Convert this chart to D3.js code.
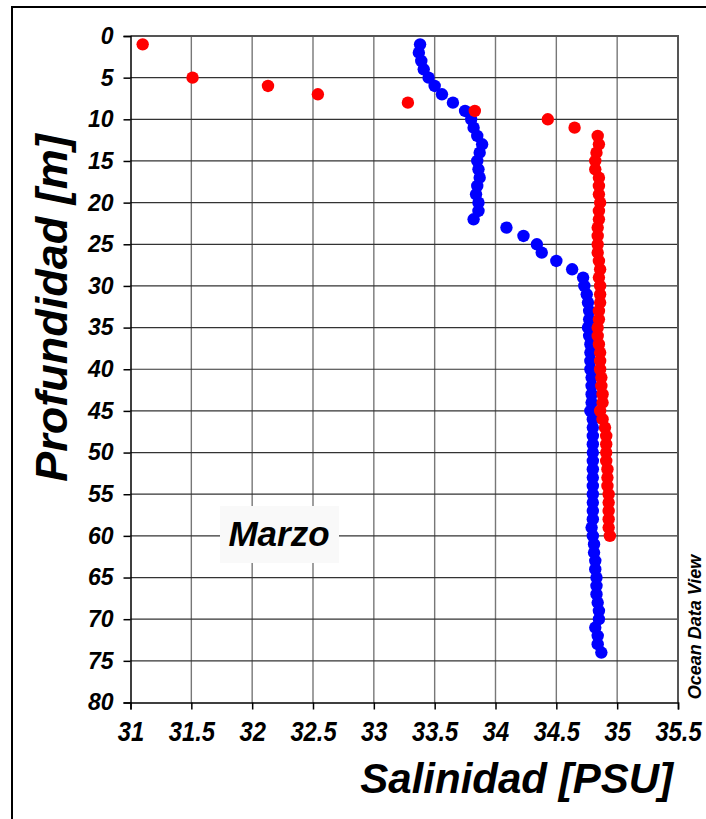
<!DOCTYPE html>
<html>
<head>
<meta charset="utf-8">
<script src="https://cdn.jsdelivr.net/npm/d3@7"></script>
<style>
  body { margin: 0; background: #fff; }
  svg text { font-family: "Liberation Sans", Arial, sans-serif; font-weight: bold; font-style: italic; }
</style>
</head>
<body>
<div id="chart"></div>
<script>
// red profile (depth m, salinity PSU)
const redDepth = [1, 5, 6, 7, 8, 9, 10, 11, 12, 13, 14, 15, 16, 17, 18, 19, 20, 21, 22, 23, 24, 25, 26, 27, 28, 29, 30,
  31, 32, 33, 34, 35, 36, 37, 38, 39, 40, 41, 42, 43, 44, 45, 46, 47, 48, 49, 50, 51, 52, 53, 54, 55, 56, 57, 58, 59, 60];
const redSal = [31.10, 31.51, 32.13, 32.54, 33.28, 33.83, 34.43, 34.65, 34.84, 34.85, 34.83, 34.82, 34.82, 34.85, 34.85,
  34.85, 34.86, 34.85, 34.85, 34.84, 34.84, 34.84, 34.84, 34.85, 34.86, 34.85, 34.86,
  34.86, 34.86, 34.85, 34.85, 34.84, 34.84, 34.85, 34.86, 34.86, 34.86, 34.87, 34.87, 34.88, 34.88, 34.86, 34.88,
  34.90, 34.91, 34.91, 34.91, 34.91, 34.92, 34.92, 34.92, 34.93, 34.93, 34.93, 34.93, 34.93, 34.94];

// blue profile
const blueDepth = d3.range(1, 75);
const blueSal = [33.38, 33.37, 33.39, 33.41, 33.45, 33.50, 33.56, 33.65, 33.75, 33.80,
  33.82, 33.85, 33.89, 33.87, 33.85, 33.86, 33.87, 33.85, 33.84, 33.86,
  33.86, 33.82, 34.09, 34.23, 34.34, 34.38, 34.50, 34.63, 34.72, 34.73,
  34.75, 34.76, 34.77, 34.77, 34.76, 34.77, 34.78, 34.78, 34.78, 34.78,
  34.79, 34.79, 34.79, 34.79, 34.78, 34.80, 34.80, 34.80, 34.80, 34.80,
  34.80, 34.80, 34.80, 34.80, 34.80, 34.80, 34.80, 34.80, 34.79, 34.80,
  34.81, 34.81, 34.82, 34.82, 34.83, 34.83, 34.83, 34.84, 34.85, 34.85,
  34.82, 34.84, 34.84, 34.87];

const xTicks = [31, 31.5, 32, 32.5, 33, 33.5, 34, 34.5, 35, 35.5];
const yTicks = d3.range(0, 85, 5);
const monthLabel = "Marzo";

const width = 706;
const height = 819;
const plotLeft = 130.5, plotRight = 678, plotTop = 36, plotBottom = 702.5;

const svg = d3.select("#chart")
  .append("svg")
  .attr("width", width)
  .attr("height", height);

const x = d3.scaleLinear().domain([31, 35.5]).range([plotLeft, plotRight]);
const y = d3.scaleLinear().domain([0, 80]).range([plotTop, plotBottom]);

// outer frame
svg.append("rect")
  .attr("x", 12).attr("y", 7)
  .attr("width", 800).attr("height", 900)
  .attr("fill", "none")
  .attr("stroke", "#000")
  .attr("stroke-width", 2);

// grid
svg.append("g")
  .selectAll("line")
  .data(xTicks.slice(1, -1))
  .enter()
  .append("line")
  .attr("x1", d => x(d)).attr("x2", d => x(d))
  .attr("y1", plotTop).attr("y2", plotBottom)
  .attr("stroke", "#777")
  .attr("stroke-width", 1.4);

svg.append("g")
  .selectAll("line")
  .data(yTicks.slice(1, -1))
  .enter()
  .append("line")
  .attr("x1", plotLeft).attr("x2", plotRight)
  .attr("y1", d => y(d)).attr("y2", d => y(d))
  .attr("stroke", "#333")
  .attr("stroke-width", 1.2);

// plot border top/right
svg.append("path")
  .attr("d", `M${plotLeft},${plotTop}H${plotRight}V${plotBottom}`)
  .attr("fill", "none")
  .attr("stroke", "#555")
  .attr("stroke-width", 2);

// axes
const yAxis = d3.axisLeft(y).tickValues(yTicks).tickSize(7).tickPadding(10);
const xAxis = d3.axisBottom(x).tickValues(xTicks).tickSize(7).tickPadding(12).tickFormat(d3.format(""));

svg.append("g")
  .attr("transform", `translate(${plotLeft},0)`)
  .call(yAxis)
  .call(g => g.selectAll("text").attr("font-size", 23).attr("fill", "#000").attr("font-family", null))
  .call(g => g.selectAll("path,line").attr("stroke", "#000").attr("stroke-width", 1.5));

svg.append("g")
  .attr("transform", `translate(0,${plotBottom})`)
  .call(xAxis)
  .call(g => g.selectAll("text").attr("font-size", 27).attr("fill", "#000").attr("font-family", null)
    .attr("transform", "scale(0.88,1)"))
  .call(g => g.selectAll("path,line").attr("stroke", "#000").attr("stroke-width", 1.5));

// month label
svg.append("rect")
  .attr("x", 220).attr("y", 506)
  .attr("width", 119).attr("height", 57)
  .attr("fill", "#f9f9f9");

svg.append("text")
  .attr("x", 279).attr("y", 546)
  .attr("text-anchor", "middle")
  .attr("font-size", 35)
  .text(monthLabel);

// points
svg.append("g")
  .selectAll("circle")
  .data(blueDepth.map((d, i) => [blueSal[i], d]))
  .enter()
  .append("circle")
  .attr("cx", d => x(d[0]))
  .attr("cy", d => y(d[1]))
  .attr("r", 6.2)
  .attr("fill", "#0000ff");

svg.append("g")
  .selectAll("circle")
  .data(redDepth.map((d, i) => [redSal[i], d]))
  .enter()
  .append("circle")
  .attr("cx", d => x(d[0]))
  .attr("cy", d => y(d[1]))
  .attr("r", 6.2)
  .attr("fill", "#ff0000");

// axis titles
svg.append("text")
  .attr("x", 673).attr("y", 793)
  .attr("text-anchor", "end")
  .attr("font-size", 42)
  .text("Salinidad [PSU]");

svg.append("text")
  .attr("transform", "translate(67,308) rotate(-90)")
  .attr("text-anchor", "middle")
  .attr("font-size", 45)
  .text("Profundidad [m]");

svg.append("text")
  .attr("transform", "translate(701,627) rotate(-90)")
  .attr("text-anchor", "middle")
  .attr("font-size", 18)
  .text("Ocean Data View");
</script>
</body>
</html>
